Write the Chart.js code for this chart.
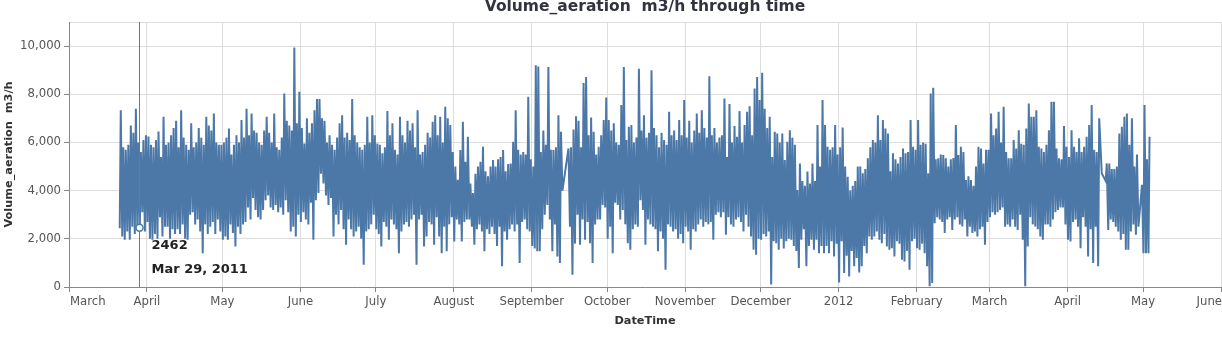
<!DOCTYPE html>
<html>
<head>
<meta charset="utf-8">
<script src="https://cdn.jsdelivr.net/npm/chart.js@4"></script>
<style>
  body { margin: 0; background: #fff; }
  #chart { display: block; }
</style>
</head>
<body>
<canvas id="chart" width="1222" height="360"></canvas>
<script>
// aeration volume, one daytime peak and one night low per day, from 2011-03-21
const startDate = [2011, 2, 21];

const dailyHigh = [
  7340, 5800, 5700, 5900, 6700, 6400, 7400, 6000, 5600, 6100, // Mar 21
  6300, 6250, 5900, 5800, 6100, 6450, 5400, 7070, 5900, 6000,
  6300, 6600, 6900, 5800, 7340, 6200, 5900, 5700, 6800, 5800,
  6000, 6600, 6200, 5900, 7070, 6700, 6500, 7200, 6000, 5900,
  5900, 6000, 6200, 6580, 5500, 5900, 6300, 6000, 6930, 6200,
  7400, 6300, 7200, 6500, 6400, 6000, 5900, 6500, 7070, 6400, // May 10
  6000, 7200, 5800, 5700, 6200, 8030, 6900, 6700, 6500, 9940,
  6800, 8100, 6600, 5960, 7000, 6400, 6800, 7340, 7800, 7800,
  7000, 6900, 6000, 6300, 5900, 5700, 6200, 6800, 7130, 6200,
  6400, 6100, 7800, 6300, 6000, 5800, 5700, 5900, 7070, 6000,
  7130, 6300, 5960, 5900, 5550, 5800, 7310, 6300, 6800, 5700, // Jun 29
  5500, 7070, 6300, 6000, 6900, 6500, 6800, 5800, 7340, 5500,
  5600, 5900, 6400, 6200, 6860, 7130, 6300, 7070, 6000, 7480,
  7000, 6720, 5600, 5000, 4450, 5690, 6860, 5200, 6240, 4300,
  3900, 4700, 5000, 5200, 5820, 4800, 4600, 5000, 5270, 5000,
  5300, 5400, 5690, 4800, 5100, 5130, 6030, 7340, 5700, 5500, // Aug 18
  5600, 5500, 7900, 5300, 5000, 9200, 9150, 5600, 6500, 5900,
  9130, 5700, 5690, 5800, 7130, 6440, null, null, 5750, 5800,
  6540, 7090, 6900, 5800, 8470, 8720, 6300, 7040, 6440, 5500,
  5820, 6300, 6930, 7870, 6930, 6500, 6800, 6000, 5900, 7550,
  9130, 6100, 6650, 6720, 6000, 6200, 9060, 6500, 7130, 6200, // Oct 7
  6400, 9000, 6600, 6300, 5800, 6400, 6100, 5900, 7270, 6300,
  6500, 6100, 6930, 6300, 7760, 6200, 6900, 6000, 6500, 7200,
  6400, 7340, 6600, 6200, 8750, 6300, 6600, 6000, 6200, 6300,
  7820, 5400, 7600, 6000, 6680, 6240, 7300, 6000, 6720, 7270,
  7500, 6300, 8240, 8720, 7760, 8890, 7400, 6600, 7070, 5400, // Nov 26
  6440, 6370, 6000, 6370, 5270, 6030, 6510, 6200, 5900, 4030,
  5130, 4400, 4200, 4790, 4300, 5130, 4400, 6720, 5000, 7760,
  6720, 5820, 5700, 5800, 6720, 5500, 5800, 6620, 5000, 4580,
  4000, 4200, 4400, 5000, 5000, 4720, 4900, 5340, 5800, 6100,
  6000, 7130, 6100, 6930, 6580, 6370, 4800, 5550, 5300, 5130, // Jan 15
  5400, 5750, 5550, 5600, 6930, 5820, 5700, 6930, 5900, 6000,
  5950, 4720, 8030, 8270, 5300, 5340, 5500, 5480, 5340, 5000,
  5300, 5350, 6720, 5480, 5820, 5600, 4440, 4600, 4440, 4200,
  5000, 5820, 5750, 5130, 5700, 5700, 7200, 6300, 6580, 7270,
  6000, 7480, 5600, 5340, 5340, 6100, 5750, 6510, 5950, 5900, // Mar 5
  6580, 7620, 7070, 7070, 7340, 5820, 5750, 5600, 5900, 6510,
  7690, 7690, 5750, 5340, 5300, 6680, 5820, 5400, 6510, 5820,
  5600, 6170, 5600, 5820, 6240, 6720, 7550, 5700, 5600, 7000,
  4720, null, 5130, 5130, 4900, 4900, 5000, 6370, 6650, 7070,
  7200, 5900, 7000, 5000, 5500, null, 4240, 7550, 5300, 6240  // Apr 24
];

const dailyLow = [
  2440, 2100, 1960, 2300, 1960, 2500, 2200, 2400, 2462, 3100, // Mar 21
  2300, 2700, 2000, 1960, 2200, 2000, 2900, 2100, 2500, 2500,
  2000, 2400, 2200, 2400, 2200, 2600, 2000, 1960, 3000, 3100,
  2600, 2800, 2300, 1400, 2600, 2200, 2500, 2700, 2200, 2800,
  2300, 1960, 2100, 1960, 2600, 2240, 1680, 2500, 2200, 2600,
  2700, 3300, 2800, 3700, 3200, 2900, 2800, 3200, 3600, 3800, // May 10
  3300, 3200, 3400, 3100, 3300, 3000, 3600, 3100, 2300, 2500,
  2100, 3000, 2700, 3100, 2800, 2600, 3500, 1960, 3600, 3900,
  4700, 4300, 3800, 3400, 3700, 2100, 3000, 2600, 3200, 2400,
  1750, 2800, 2400, 2100, 2300, 2500, 2000, 920, 2300, 2400,
  2600, 3000, 2400, 2200, 1680, 2700, 2500, 1960, 2800, 2600, // Jun 29
  2400, 1400, 2300, 2600, 2700, 2500, 2800, 3000, 920, 2800,
  3000, 1680, 2100, 2700, 2600, 1750, 2900, 2100, 1400, 2500,
  1480, 2600, 2900, 1890, 2800, 2600, 1890, 2700, 2800, 2800,
  2500, 1750, 2400, 2600, 2300, 1480, 2400, 2200, 2500, 2200,
  1700, 2500, 860, 2300, 1960, 2400, 2600, 2300, 2600, 1000, // Aug 18
  2700, 2800, 2400, 2300, 1700, 1600, 1480, 1480, 2400, 3000,
  3400, 2800, 1480, 2600, 1270, 1000, 4000, null, null, 2500,
  510, 1800, 3000, 1750, 2800, 1960, 2700, 1820, 1000, 2600,
  2800, 2800, 3400, 3300, 2000, 2500, 1400, 3500, 3400, 2800,
  3200, 2600, 1820, 1550, 2400, 2600, 2500, 3600, 3200, 1750, // Oct 7
  2800, 2600, 2500, 2400, 1480, 2300, 2000, 720, 2600, 2500,
  2300, 2400, 2000, 2200, 1820, 2500, 2300, 1550, 2400, 2300,
  2600, 2800, 2500, 2700, 2600, 2700, 1960, 3000, 3100, 2900,
  3100, 2170, 2900, 2600, 2500, 2800, 2900, 2700, 2300, 3000,
  2500, 2100, 1550, 1340, 2000, 1960, 2200, 2100, 2300, 100, // Nov 26
  1900, 1820, 1550, 2000, 1600, 1900, 2000, 1960, 1700, 1500,
  790, 1960, 2400, 860, 1700, 1960, 1550, 1960, 1400, 1700,
  1400, 1700, 1400, 1900, 1270, 1800, 190, 1900, 580, 1300,
  440, 1500, 860, 1200, 600, 860, 1700, 1400, 2100, 1960,
  2100, 2300, 1960, 1820, 2200, 1680, 1550, 1610, 1270, 1900, // Jan 15
  1800, 1130, 1060, 1500, 720, 1900, 2000, 1610, 1550, 1800,
  1400, 860, 30, 170, 2650, 2900, 2800, 2700, 2240, 2800,
  2900, 2370, 2800, 2900, 2600, 2510, 2800, 2100, 2500, 2240,
  2300, 2100, 2400, 2500, 1750, 2700, 2900, 3100, 3000, 3100,
  3200, 3300, 2500, 2600, 2500, 2800, 2500, 2370, 3000, 1960, // Mar 5
  30, 1680, 2900, 2600, 2510, 2400, 2100, 1960, 2600, 2600,
  2500, 2800, 3100, 3200, 3300, 3300, 2600, 1960, 1890, 2700,
  2800, 2500, 1610, 2900, 2500, 1270, 2400, 1000, 2500, 860,
  null, null, 4400, 2370, 2800, 2700, 2500, 2300, 1960, 2200,
  1550, 1550, 2300, 2600, 2170, 2500, null, 1400, 1400, 1400  // Apr 24
];

// x axis: month starts and their labels
const monthStarts = [
  [2011, 2], [2011, 3], [2011, 4], [2011, 5], [2011, 6], [2011, 7], [2011, 8], [2011, 9],
  [2011, 10], [2011, 11], [2012, 0], [2012, 1], [2012, 2], [2012, 3], [2012, 4], [2012, 5]
];
const monthLabels = ['March', 'April', 'May', 'June', 'July', 'August', 'September', 'October',
  'November', 'December', '2012', 'February', 'March', 'April', 'May', 'June'];

const yTicks = [0, 2000, 4000, 6000, 8000, 10000, 11000];

// the highlighted point
const hoverDate = [2011, 2, 29];
const hoverValue = 2462;
const hoverLabel = 'Mar 29, 2011';

const titleText = 'Volume_aeration  m3/h through time';
const yTitle = 'Volume_aeration  m3/h';
const xTitle = 'DateTime';

const tickFont = { family: 'DejaVu Sans', size: 11.7 };
const tickColor = '#555';

const HOUR = 3600 * 1000;
const DAY = 24 * HOUR;
const monthTimes = monthStarts.map(m => Date.UTC(m[0], m[1], 1));
const lastTick = monthLabels.length - 1;

const t0 = Date.UTC(startDate[0], startDate[1], startDate[2]);
const points = [];
for (let i = 0; i < dailyHigh.length; i++) {
  const day = t0 + i * DAY;
  if (dailyLow[i] !== null) points.push({ x: day + 4 * HOUR, y: dailyLow[i] });
  if (dailyHigh[i] !== null) points.push({ x: day + 14 * HOUR, y: dailyHigh[i] });
}

const overlay = {
  id: 'overlay',
  afterDraw(chart) {
    const { ctx, chartArea, scales } = chart;
    const px = Math.round(scales.x.getPixelForValue(Date.UTC(hoverDate[0], hoverDate[1], hoverDate[2]))) + 0.5;
    const py = scales.y.getPixelForValue(hoverValue);
    ctx.save();
    // rule
    ctx.strokeStyle = '#777';
    ctx.lineWidth = 1;
    ctx.beginPath();
    ctx.moveTo(px, chartArea.top);
    ctx.lineTo(px, chartArea.bottom);
    ctx.stroke();
    // point
    ctx.beginPath();
    ctx.arc(px, py, 3.5, 0, Math.PI * 2);
    ctx.fillStyle = '#fff';
    ctx.fill();
    ctx.strokeStyle = '#4c78a8';
    ctx.lineWidth = 1.5;
    ctx.stroke();
    // labels
    ctx.font = 'bold 13px "DejaVu Sans"';
    ctx.fillStyle = '#222';
    ctx.textAlign = 'left';
    ctx.textBaseline = 'middle';
    ctx.fillText(String(hoverValue), px + 12, py + 18);
    ctx.fillText(hoverLabel, px + 12, py + 42);
    // first and last month labels sit flush with the plot edges
    const ly = scales.x.top + 5 + 3 + tickFont.size * 1.2 / 2;
    ctx.font = tickFont.size + 'px "' + tickFont.family + '"';
    ctx.fillStyle = tickColor;
    ctx.textAlign = 'left';
    ctx.fillText(monthLabels[0], scales.x.getPixelForValue(monthTimes[0]) + 1, ly);
    ctx.textAlign = 'right';
    ctx.fillText(monthLabels[lastTick], scales.x.getPixelForValue(monthTimes[lastTick]) + 1, ly);
    // title
    ctx.font = 'bold 15.5px "DejaVu Sans"';
    ctx.fillStyle = '#31333f';
    ctx.textAlign = 'center';
    ctx.fillText(titleText, (chartArea.left + chartArea.right) / 2, 7);
    ctx.restore();
  }
};

new Chart(document.getElementById('chart').getContext('2d'), {
  type: 'line',
  data: {
    datasets: [{
      data: points,
      borderColor: '#4c78a8',
      borderWidth: 2,
      pointRadius: 0,
      tension: 0,
      fill: false
    }]
  },
  options: {
    responsive: false,
    animation: false,
    devicePixelRatio: 1,
    layout: { padding: { top: 22, right: 1, left: 0, bottom: 0 } },
    plugins: {
      legend: { display: false },
      tooltip: { enabled: false }
    },
    scales: {
      x: {
        type: 'linear',
        min: monthTimes[0],
        max: monthTimes[lastTick],
        afterBuildTicks: s => { s.ticks = monthTimes.map(v => ({ value: v })); },
        afterFit: s => { s.height = 73; s.paddingLeft = 0; s.paddingRight = 0; },
        ticks: {
          autoSkip: false,
          maxRotation: 0,
          padding: 3,
          color: tickColor,
          font: tickFont,
          callback: (v, i) => (i === 0 || i === lastTick) ? '' : monthLabels[i]
        },
        grid: { color: '#ddd', tickColor: '#888', tickLength: 5 },
        border: { color: '#888' },
        title: {
          display: true,
          text: xTitle,
          color: '#333',
          font: { family: 'DejaVu Sans', size: 11.3, weight: 'bold' },
          padding: { top: 0, bottom: 32 }
        }
      },
      y: {
        min: 0,
        max: 11000,
        afterBuildTicks: s => { s.ticks = yTicks.map(v => ({ value: v })); },
        afterFit: s => { s.width = 69; s.paddingTop = 0; s.paddingBottom = 0; },
        ticks: {
          padding: 3,
          color: tickColor,
          font: tickFont,
          callback: v => v === 11000 ? '' : v.toLocaleString('en-US')
        },
        grid: {
          color: '#ddd',
          tickLength: 5,
          tickColor: c => (c.tick && c.tick.value === 11000) ? 'rgba(0,0,0,0)' : '#888'
        },
        border: { color: '#888' },
        title: {
          display: true,
          text: yTitle,
          color: '#333',
          font: { family: 'DejaVu Sans', size: 11.3, weight: 'bold' },
          padding: { top: 2, bottom: 0 }
        }
      }
    }
  },
  plugins: [overlay]
});
</script>
</body>
</html>
